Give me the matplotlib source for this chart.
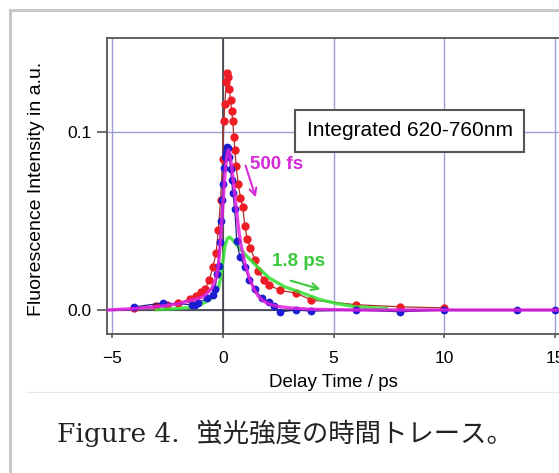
import matplotlib
matplotlib.use("Agg")
import matplotlib.pyplot as plt
from matplotlib.lines import Line2D

plt.rcParams['font.family'] = ['Liberation Sans', 'DejaVu Sans']

# measured points (red)
t_red = [-4.0, -3.0, -2.5, -2.0, -1.5, -1.2, -1.0, -0.8, -0.6, -0.45, -0.3, -0.2, -0.1,
         0.0, 0.05, 0.1, 0.15, 0.2, 0.25, 0.3, 0.35, 0.4, 0.45, 0.5, 0.55, 0.6, 0.7,
         0.8, 0.9, 1.0, 1.1, 1.25, 1.45, 1.6, 1.85, 2.1, 2.6, 3.3, 4.0, 6.0, 8.0, 10.0]
i_red = [0.001, 0.002, 0.003, 0.004, 0.006, 0.008, 0.010, 0.012, 0.017, 0.024, 0.032, 0.045, 0.062,
         0.085, 0.106, 0.116, 0.128, 0.133, 0.131, 0.124, 0.118, 0.112, 0.106, 0.097, 0.090, 0.081, 0.071,
         0.063, 0.058, 0.047, 0.040, 0.035, 0.028, 0.022, 0.017, 0.014, 0.011, 0.0095, 0.0056, 0.003, 0.0018, 0.0012]

# measured points (blue)
t_blue = [-4.0, -2.7, -1.4, -1.25, -1.1, -0.7, -0.45, -0.35, -0.25, -0.18, -0.13, -0.08, -0.04,
          0.0, 0.05, 0.1, 0.15, 0.2, 0.25, 0.3, 0.35, 0.4, 0.45, 0.54, 0.63, 0.77, 1.0, 1.2,
          1.44, 1.75, 2.1, 2.3, 2.6, 3.3, 4.0, 6.0, 8.0, 10.0, 13.3, 15.0]
i_blue = [0.0017, 0.004, 0.003, 0.003, 0.004, 0.0067, 0.0084, 0.012, 0.020, 0.025, 0.038, 0.050, 0.062,
          0.071, 0.080, 0.086, 0.089, 0.0915, 0.091, 0.086, 0.079, 0.073, 0.066, 0.057, 0.039, 0.030, 0.024, 0.017,
          0.012, 0.0067, 0.0045, 0.002, -0.001, 0.0, -0.0006, 0.0, -0.001, 0.0, 0.0, 0.0]

# fit curve, 500 fs component (magenta)
t_mag = [-5.2, -4.0, -3.0, -2.0, -1.5, -1.0, -0.8, -0.5, -0.3, -0.2, -0.13, -0.05, 0.0, 0.1,
         0.2, 0.25, 0.3, 0.4, 0.5, 0.6, 0.7, 0.8, 1.0, 1.1, 1.2, 1.4, 1.6, 1.8, 2.0, 2.4,
         3.0, 4.0, 6.0, 15.5]
i_mag = [0.0, 0.0008, 0.0018, 0.0035, 0.0052, 0.0068, 0.0084, 0.012, 0.018, 0.025, 0.035, 0.049, 0.058, 0.077,
         0.088, 0.090, 0.089, 0.081, 0.070, 0.058, 0.047, 0.038, 0.026, 0.022, 0.018, 0.012, 0.0078, 0.0055, 0.0038, 0.0022,
         0.0012, 0.0004, 0.0, 0.0]

# fit curve, 1.8 ps component (green)
t_grn = [-3.0, -2.0, -1.5, -1.0, -0.6, -0.4, -0.2, -0.1, 0.0, 0.1, 0.2, 0.3, 0.4, 0.6, 0.8,
         1.1, 1.5, 2.1, 2.8, 3.5, 4.4, 5.2, 6.0, 7.4]
i_grn = [0.0002, 0.0008, 0.0015, 0.003, 0.0056, 0.008, 0.012, 0.018, 0.027, 0.036, 0.040, 0.041, 0.040, 0.037, 0.034,
         0.030, 0.025, 0.018, 0.013, 0.010, 0.0058, 0.0035, 0.0018, 0.0008]

x_ticks = [-5, 0, 5, 10, 15]
y_ticks = [0.0, 0.1]
y_ticklabels = ['0.0', '0.1']

W, H = 559, 473
fig = plt.figure(figsize=(W / 100, H / 100), dpi=100)
ax = fig.add_axes([107 / W, 139 / H, 458 / W, 296 / H])

ax.plot(t_red, i_red, '-', color='#a8322c', lw=0.9, zorder=3)
ax.plot(t_red, i_red, 'o', color='#ee1c24', ms=5, mec='#ee1c24', zorder=3)
ax.plot(t_grn, i_grn, '-', color='#33e033', lw=2.4, alpha=0.85, zorder=4)
ax.plot(t_blue, i_blue, '-', color='#202080', lw=0.9, zorder=5)
ax.plot(t_blue, i_blue, 'o', color='#1c1cd0', ms=4.6, mec='#1c1cd0', zorder=5)
ax.plot(t_mag, i_mag, '-', color='#e020e0', lw=2.4, alpha=0.85, zorder=6)

ax.set_xlim(-5.226, 15.45)
ax.set_ylim(-0.01348, 0.1528)
ax.set_xticks(x_ticks)
ax.set_yticks(y_ticks)
ax.set_yticklabels(y_ticklabels)
ax.set_axisbelow(True)
ax.grid(True, color='#9c9cd6', lw=1.0)
ax.axvline(0, color='#333333', lw=1.1, zorder=2)
ax.axhline(0, color='#333333', lw=1.1, zorder=2)

for s in ax.spines.values():
    s.set_color('#555555')
    s.set_linewidth(1.3)
ax.tick_params(axis='y', direction='out', length=7, width=1.2, color='#555555', pad=4, labelsize=12.5)
ax.tick_params(axis='x', direction='out', length=3, width=1.2, color='#555555', pad=9, labelsize=12.5)

ax.set_xlabel('Delay Time / ps', fontsize=13.5, va='center')
ax.xaxis.set_label_coords(0.4934, -0.1655)
ax.set_ylabel('Fluorescence Intensity in a.u.', fontsize=14, va='center')
ax.yaxis.set_label_coords(-70 / 458, 0.49)

ax.text(8.45, 0.1006, 'Integrated 620-760nm', fontsize=15, ha='center', va='center', zorder=8,
        bbox=dict(boxstyle='square,pad=0.55', fc='white', ec='#555555', lw=1.5))

ax.text(1.23, 0.0815, '500 fs', fontsize=13.5, fontweight='bold', color='#d62ad6',
        ha='left', va='center', zorder=8)
ax.annotate('', xy=(1.53, 0.0618), xytext=(0.99, 0.0826), zorder=8,
            arrowprops=dict(arrowstyle='->,head_length=0.5,head_width=0.25', color='#d62ad6', lw=1.5))
ax.text(2.22, 0.027, '1.8 ps', fontsize=13.5, fontweight='bold', color='#3cc83c',
        ha='left', va='center', zorder=8)
ax.annotate('', xy=(4.53, 0.0112), xytext=(2.95, 0.0169), zorder=8,
            arrowprops=dict(arrowstyle='->,head_length=0.5,head_width=0.25', color='#3cc83c', lw=1.5))

# page frame and separator
fig.add_artist(Line2D([10 / W, 1], [1 - 10 / H, 1 - 10 / H], color='#c8c8c8', lw=2.2))
fig.add_artist(Line2D([10 / W, 10 / W], [0, 1 - 10 / H], color='#c8c8c8', lw=2.2))
fig.add_artist(Line2D([26 / W, 1], [1 - 392 / H, 1 - 392 / H], color='#e8e8e8', lw=0.8))

fig.text(57 / W, 1 - 433 / H, 'Figure 4.  蛍光強度の時間トレース。', fontsize=19,
         family=['DejaVu Serif', 'Noto Sans CJK JP'], color='#222222', ha='left', va='center')

fig.savefig('out.png', dpi=100)
